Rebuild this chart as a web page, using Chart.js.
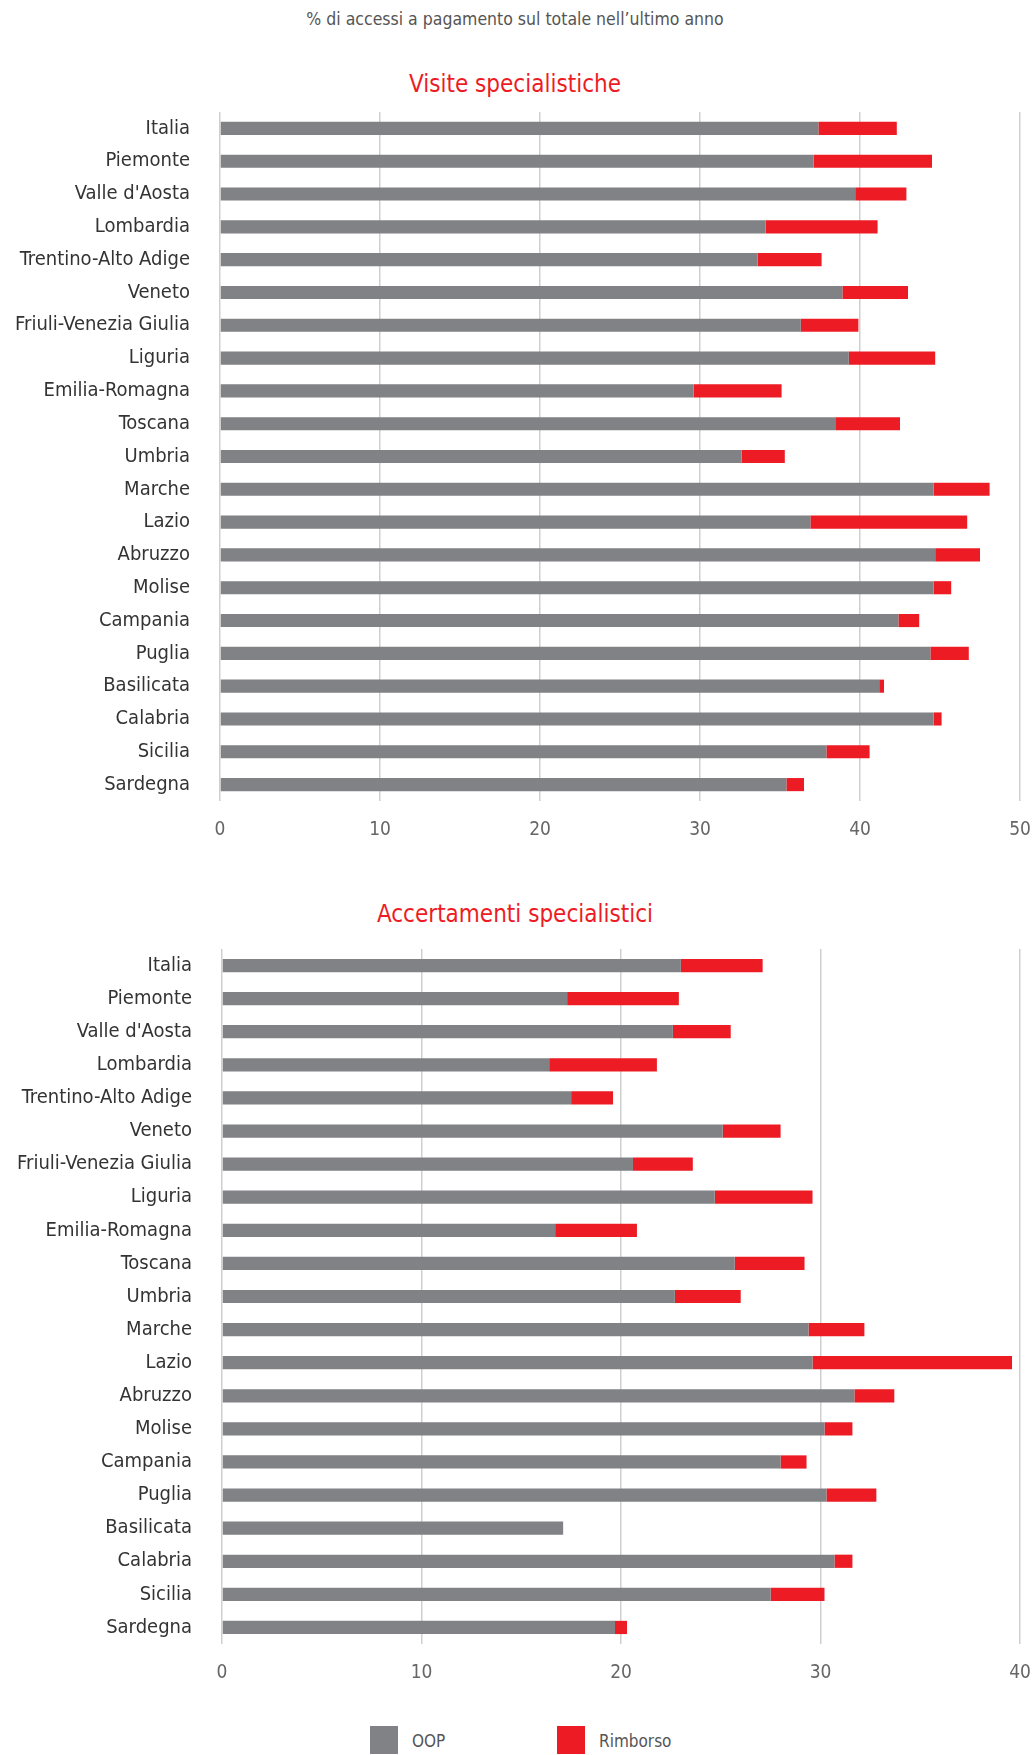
<!DOCTYPE html>
<html>
<head>
<meta charset="utf-8">
<script src="https://cdn.jsdelivr.net/npm/chart.js@4/dist/chart.umd.min.js"></script>
<style>
  html, body { margin: 0; padding: 0; background: #fff; }
  body { width: 1036px; height: 1755px; position: relative; overflow: hidden;
         font-family: 'Liberation Sans Narrow', 'DejaVu Sans Condensed', Roboto, sans-serif; }
  .txt { position: absolute; left: 0; width: 1036px; text-align: center; white-space: nowrap; }
  #sub { top: 9px; font-size: 17.5px; color: #555; width: 1030px; }
  .title { font-size: 24px; color: #ED1C24; }
  #t1 { top: 70px; left: 0; width: 1030px; }
  #t2 { top: 900px; left: 0; width: 1030px; }
  .wrap { position: absolute; left: 0; width: 1036px; }
  #w1 { top: 95px; height: 756px; }
  #w2 { top: 930px; height: 764px; }
  .legend { position: absolute; top: 1726px; font-size: 17px; color: #555; }
  .legend .box { position: absolute; top: 0; width: 28px; height: 28px; }
  .legend .lab { position: absolute; top: 5px; white-space: nowrap; }
</style>
</head>
<body>
<div id="sub" class="txt">% di accessi a pagamento sul totale nell’ultimo anno</div>
<div id="t1" class="txt title">Visite specialistiche</div>
<div class="wrap" id="w1"><canvas id="c1"></canvas></div>
<div id="t2" class="txt title">Accertamenti specialistici</div>
<div class="wrap" id="w2"><canvas id="c2"></canvas></div>
<div class="legend" id="legend"></div>

<script>
const regions = ['Italia', 'Piemonte', "Valle d'Aosta", 'Lombardia', 'Trentino-Alto Adige', 'Veneto',
  'Friuli-Venezia Giulia', 'Liguria', 'Emilia-Romagna', 'Toscana', 'Umbria', 'Marche', 'Lazio',
  'Abruzzo', 'Molise', 'Campania', 'Puglia', 'Basilicata', 'Calabria', 'Sicilia', 'Sardegna'];

const seriesNames = ['OOP', 'Rimborso'];

const visiteOOP  = [37.4, 37.1, 39.7, 34.1, 33.6, 38.9, 36.3, 39.3, 29.6, 38.5, 32.6, 44.6, 36.9, 44.7, 44.6, 42.4, 44.4, 41.2, 44.6, 37.9, 35.4];
const visiteRimb = [4.9, 7.4, 3.2, 7.0, 4.0, 4.1, 3.6, 5.4, 5.5, 4.0, 2.7, 3.5, 9.8, 2.8, 1.1, 1.3, 2.4, 0.3, 0.5, 2.7, 1.1];

const accOOP  = [23.0, 17.3, 22.6, 16.4, 17.5, 25.1, 20.6, 24.7, 16.7, 25.7, 22.7, 29.4, 29.6, 31.7, 30.2, 28.0, 30.3, 17.1, 30.7, 27.5, 19.7];
const accRimb = [4.1, 5.6, 2.9, 5.4, 2.1, 2.9, 3.0, 4.9, 4.1, 3.5, 3.3, 2.8, 10.0, 2.0, 1.4, 1.3, 2.5, 0, 0.9, 2.7, 0.6];

const visiteTicks = [0, 10, 20, 30, 40, 50];
const accTicks = [0, 10, 20, 30, 40];

const COL_OOP = '#818285';
const COL_RIMB = '#ED1C24';
const FONT = "'Liberation Sans Narrow', 'DejaVu Sans Condensed', Roboto, sans-serif";

function makeChart(id, oop, rimb, ticks, padTop, yWidth) {
  const tmin = ticks[0], tmax = ticks[ticks.length - 1], step = ticks[1] - ticks[0];
  return new Chart(document.getElementById(id), {
    type: 'bar',
    data: {
      labels: regions,
      datasets: [
        { label: seriesNames[0], data: oop, backgroundColor: COL_OOP, barPercentage: 0.4, categoryPercentage: 1 },
        { label: seriesNames[1], data: rimb, backgroundColor: COL_RIMB, barPercentage: 0.4, categoryPercentage: 1 }
      ]
    },
    options: {
      indexAxis: 'y',
      responsive: true,
      maintainAspectRatio: false,
      animation: false,
      layout: { padding: { top: padTop, right: 16, bottom: 0, left: 0 } },
      plugins: { legend: { display: false }, tooltip: { enabled: false }, title: { display: false } },
      scales: {
        x: {
          stacked: true, min: tmin, max: tmax,
          afterBuildTicks: (s) => { s.ticks = ticks.map(v => ({ value: v })); },
          grid: { color: '#cfcfcf', lineWidth: 1.5, drawTicks: true, tickLength: 18, tickColor: 'rgba(0,0,0,0)' },
          border: { display: false },
          ticks: { stepSize: step, padding: 0, color: '#666', font: { family: FONT, size: 19 } },
          afterFit: (s) => { s.height = 50; }
        },
        y: {
          stacked: true,
          grid: { display: false, drawTicks: true, tickLength: 30 },
          border: { display: false },
          ticks: { padding: 0, color: '#333', font: { family: FONT, size: 20 }, autoSkip: false },
          afterFit: (s) => { s.width = yWidth; }
        }
      }
    }
  });
}

makeChart('c1', visiteOOP, visiteRimb, visiteTicks, 17, 220);
makeChart('c2', accOOP, accRimb, accTicks, 19, 222);

// legend
const legend = document.getElementById('legend');
const legendX = [370, 557];
const legendCols = [COL_OOP, COL_RIMB];
seriesNames.forEach((n, i) => {
  const b = document.createElement('div');
  b.className = 'box'; b.style.left = legendX[i] + 'px'; b.style.background = legendCols[i];
  const t = document.createElement('div');
  t.className = 'lab'; t.style.left = (legendX[i] + 42) + 'px'; t.textContent = n;
  legend.appendChild(b); legend.appendChild(t);
});
</script>
</body>
</html>
